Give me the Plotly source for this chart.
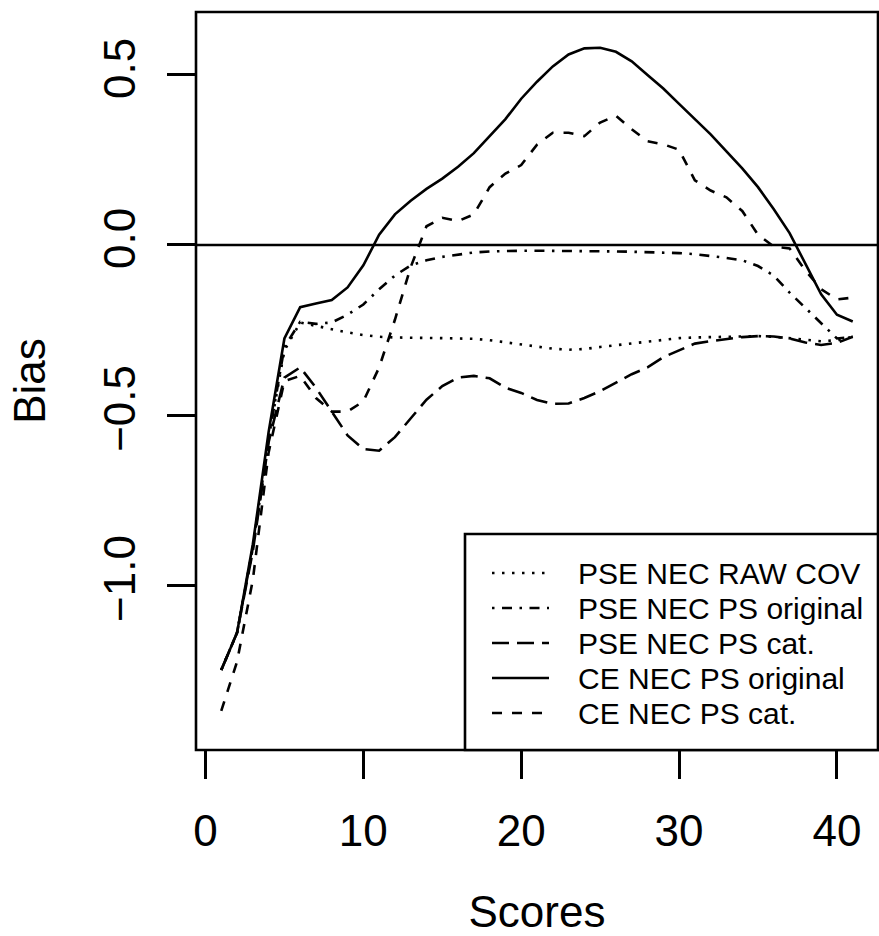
import plotly.graph_objects as go

scores = list(range(1, 42))

pse_raw_cov = [-1.25, -1.14, -0.89, -0.57, -0.31, -0.228, -0.238, -0.248, -0.257, -0.265,
               -0.270, -0.272, -0.272, -0.273, -0.274, -0.275, -0.276, -0.280, -0.286, -0.293,
               -0.300, -0.305, -0.308, -0.306, -0.300, -0.295, -0.290, -0.283, -0.278, -0.274,
               -0.272, -0.271, -0.270, -0.269, -0.268, -0.270, -0.274, -0.280, -0.283, -0.280,
               -0.270]

pse_ps_original = [-1.25, -1.14, -0.89, -0.57, -0.30, -0.226, -0.232, -0.228, -0.205, -0.175,
                   -0.130, -0.090, -0.060, -0.045, -0.035, -0.028, -0.022, -0.019, -0.017, -0.017,
                   -0.017, -0.017, -0.018, -0.018, -0.019, -0.019, -0.020, -0.021, -0.022, -0.024,
                   -0.027, -0.032, -0.038, -0.045, -0.062, -0.090, -0.140, -0.185, -0.230, -0.275,
                   -0.270]

pse_ps_cat = [-1.25, -1.14, -0.90, -0.58, -0.39, -0.36, -0.42, -0.49, -0.56, -0.600,
              -0.605, -0.565, -0.510, -0.455, -0.415, -0.390, -0.385, -0.392, -0.420, -0.435,
              -0.456, -0.467, -0.466, -0.450, -0.430, -0.405, -0.380, -0.360, -0.330, -0.310,
              -0.290, -0.283, -0.276, -0.271, -0.268, -0.269, -0.275, -0.287, -0.294, -0.288,
              -0.270]

ce_ps_original = [-1.25, -1.14, -0.88, -0.55, -0.275, -0.183, -0.172, -0.162, -0.125, -0.060,
                  0.030, 0.090, 0.130, 0.165, 0.195, 0.230, 0.270, 0.320, 0.370, 0.430,
                  0.480, 0.525, 0.560, 0.578, 0.580, 0.568, 0.540, 0.500, 0.460, 0.415,
                  0.370, 0.325, 0.275, 0.225, 0.170, 0.105, 0.035, -0.055, -0.145, -0.205,
                  -0.225]

ce_ps_cat = [-1.37, -1.225, -0.985, -0.61, -0.40, -0.385, -0.45, -0.49, -0.49, -0.46,
             -0.36, -0.22, -0.065, 0.055, 0.080, 0.070, 0.090, 0.170, 0.210, 0.235,
             0.295, 0.330, 0.330, 0.320, 0.360, 0.380, 0.340, 0.305, 0.296, 0.280,
             0.190, 0.160, 0.140, 0.100, 0.030, -0.005, -0.010, -0.075, -0.130, -0.160,
             -0.155]

series_names = ["PSE NEC RAW COV", "PSE NEC PS original", "PSE NEC PS cat.",
                "CE NEC PS original", "CE NEC PS cat."]
series_values = [pse_raw_cov, pse_ps_original, pse_ps_cat, ce_ps_original, ce_ps_cat]

x_tick_vals = [0, 10, 20, 30, 40]
x_tick_text = ["0", "10", "20", "30", "40"]
y_tick_vals = [-1.0, -0.5, 0.0, 0.5]
y_tick_text = ["\u22121.0", "\u22120.5", "0.0", "0.5"]

dashes = ["2.5px,7.5px", "2.5px,7.5px,10px,7.5px", "17px,8px", "solid", "10px,10px"]
LW = 2.6
FONT = "Liberation Sans, Arial, sans-serif"

fig = go.Figure()
for name, vals, dash in zip(series_names, series_values, dashes):
    fig.add_trace(go.Scatter(x=scores, y=vals, mode="lines", name=name,
                             line=dict(color="black", width=LW, dash=dash),
                             showlegend=False))

W, H = 879, 936
L, R, T, B = 196, 1, 12, 186
pw, ph = W - L - R, H - T - B

def px(x):
    return (x - L) / pw

def py(y):
    return (H - B - y) / ph

shapes = [
    dict(type="rect", xref="paper", yref="paper", x0=0, x1=1, y0=0, y1=1,
         line=dict(color="black", width=LW)),
    dict(type="line", xref="paper", yref="y", x0=0, x1=1, y0=0, y1=0,
         line=dict(color="black", width=LW)),
    # legend box
    dict(type="rect", xref="paper", yref="paper", x0=px(465), x1=1, y0=0, y1=py(534),
         line=dict(color="black", width=LW), fillcolor="white", layer="above"),
]
annotations = []
row_y = [573, 608, 643, 678, 713]
for name, dash, ry in zip(series_names, dashes, row_y):
    shapes.append(dict(type="line", xref="paper", yref="paper",
                       x0=px(492), x1=px(549), y0=py(ry), y1=py(ry),
                       line=dict(color="black", width=LW, dash=dash), layer="above"))
    annotations.append(dict(xref="paper", yref="paper", x=px(576), y=py(ry),
                            text=name, showarrow=False, xanchor="left", yanchor="middle",
                            font=dict(size=30, color="black", family=FONT)))

fig.update_layout(
    width=W, height=H,
    margin=dict(l=L, r=R, t=T, b=B, autoexpand=False),
    plot_bgcolor="white", paper_bgcolor="white",
    shapes=shapes, annotations=annotations,
    font=dict(family=FONT, color="black"),
    xaxis=dict(range=[-0.6, 42.6], tickvals=x_tick_vals, ticktext=x_tick_text,
               ticks="outside", ticklen=28, tickwidth=LW, tickcolor="black",
               showgrid=False, zeroline=False, showline=False,
               tickfont=dict(size=44, color="black"), ticklabelstandoff=14,
               title=dict(text="Scores", font=dict(size=44, color="black"), standoff=42)),
    yaxis=dict(range=[-1.485, 0.685], tickvals=y_tick_vals, ticktext=y_tick_text,
               ticks="outside", ticklen=28, tickwidth=LW, tickcolor="black",
               showgrid=False, zeroline=False, showline=False, tickangle=-90,
               tickfont=dict(size=44, color="black"), ticklabelstandoff=14,
               title=dict(text="Bias", font=dict(size=44, color="black"), standoff=36)),
)

fig.write_html("out.html")
